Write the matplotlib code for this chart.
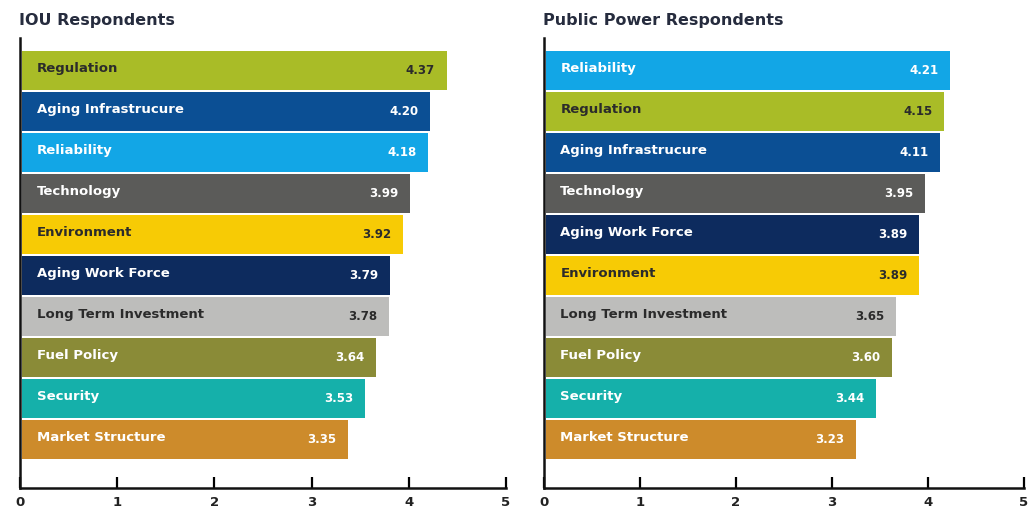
import matplotlib
matplotlib.use("Agg")
import matplotlib.pyplot as plt

# IOU respondents (top to bottom)
iou_labels = ["Regulation", "Aging Infrastrucure", "Reliability", "Technology", "Environment",
              "Aging Work Force", "Long Term Investment", "Fuel Policy", "Security", "Market Structure"]
iou_values = [4.37, 4.20, 4.18, 3.99, 3.92, 3.79, 3.78, 3.64, 3.53, 3.35]

# Public power respondents (top to bottom)
pub_labels = ["Reliability", "Regulation", "Aging Infrastrucure", "Technology", "Aging Work Force",
              "Environment", "Long Term Investment", "Fuel Policy", "Security", "Market Structure"]
pub_values = [4.21, 4.15, 4.11, 3.95, 3.89, 3.89, 3.65, 3.60, 3.44, 3.23]

colors = {
    "Regulation": "#a9bc27",
    "Aging Infrastrucure": "#0b4f94",
    "Reliability": "#12a6e6",
    "Technology": "#5b5b59",
    "Environment": "#f7cb05",
    "Aging Work Force": "#0d2b5e",
    "Long Term Investment": "#bdbdbb",
    "Fuel Policy": "#8a8b37",
    "Security": "#15b0aa",
    "Market Structure": "#cd8b2b",
}
dark_text = {"Regulation", "Environment", "Long Term Investment"}

plt.rcParams["font.family"] = ["DejaVu Sans"]

fig = plt.figure(figsize=(10.30, 5.12), dpi=100)
W, H = 1030, 512


def draw_panel(left_px, width_px, title, labels, values):
    ax = fig.add_axes([left_px / W, 24 / H, width_px / W, 450 / H])
    n = len(labels)
    ys = list(range(n))
    ax.barh(ys, values, height=0.95, left=0.02,
            color=[colors[l] for l in labels], edgecolor="none")
    for y, lab, v in zip(ys, labels, values):
        tc = "#2b2b2b" if lab in dark_text else "white"
        ax.text(0.17, y - 0.05, lab, color=tc, fontsize=9.5, fontweight="bold",
                va="center", ha="left")
        ax.text(0.02 + v - 0.12, y, f"{v:.2f}", color=tc, fontsize=8.5,
                fontweight="bold", va="center", ha="right")
    ax.set_xlim(0, 5)
    ax.set_ylim(n - 1 + 1.18, -0.79)
    ax.set_yticks([])
    ax.set_xticks([0, 1, 2, 3, 4, 5])
    ax.tick_params(axis="x", direction="in", length=8, width=1.6, pad=6,
                   labelsize=9.5, labelcolor="#222222")
    for t in ax.get_xticklabels():
        t.set_fontweight("bold")
    for s in ("top", "right"):
        ax.spines[s].set_visible(False)
    for s in ("left", "bottom"):
        ax.spines[s].set_linewidth(1.8)
        ax.spines[s].set_color("#111111")
    ax.text(-0.002, 1.04, title, transform=ax.transAxes, fontsize=11.5,
            fontweight="bold", color="#262c3e", ha="left", va="center")
    return ax


draw_panel(20, 486, "IOU Respondents", iou_labels, iou_values)
draw_panel(544, 480, "Public Power Respondents", pub_labels, pub_values)

fig.savefig("out.png", dpi=100, facecolor="white")
